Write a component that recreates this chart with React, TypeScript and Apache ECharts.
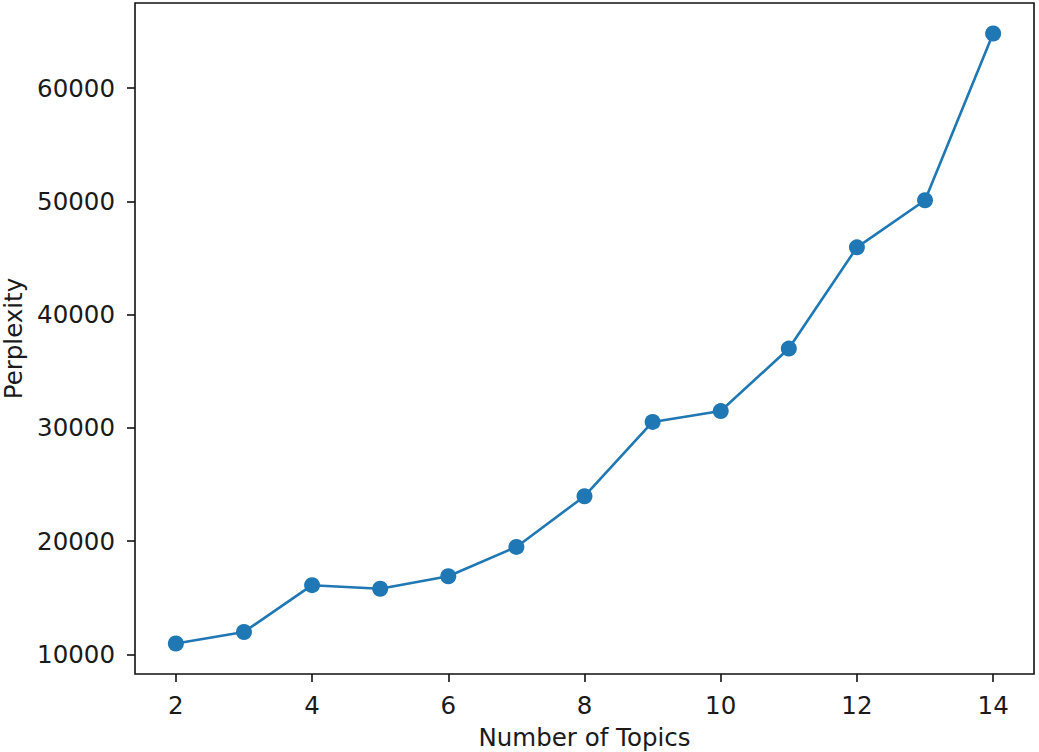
import React, { useEffect, useRef } from "react";
import * as echarts from "echarts";

const topics = [2, 3, 4, 5, 6, 7, 8, 9, 10, 11, 12, 13, 14];
const perplexity = [10950, 11970, 16100, 15790, 16890, 19480, 23960, 30520, 31480, 37000, 45940, 50100, 64830];
const xTicks = [2, 4, 6, 8, 10, 12, 14];
const yTicks = [10000, 20000, 30000, 40000, 50000, 60000];
const xLabel = "Number of Topics";
const yLabel = "Perplexity";

export default function App() {
  const ref = useRef<HTMLDivElement>(null);
  useEffect(() => {
    if (!ref.current) return;
    const chart = echarts.init(ref.current, undefined, { renderer: "svg" });
    const xMin = Math.min(...topics), xMax = Math.max(...topics);
    const yMin = Math.min(...perplexity), yMax = Math.max(...perplexity);
    const xPad = (xMax - xMin) * 0.05, yPad = (yMax - yMin) * 0.05;
    const font = "DejaVu Sans";
    const txt = "#1a1a1a";
    const fs = 24.5;
    chart.setOption({
      animation: false,
      backgroundColor: "#fff",
      grid: {
        left: 135, top: 3, right: 5, bottom: 78,
        containLabel: false,
        outerBoundsMode: "none",
        show: true, borderColor: "#111", borderWidth: 1.6, backgroundColor: "transparent",
      },
      xAxis: {
        type: "value",
        min: xMin - xPad,
        max: xMax + xPad,
        name: xLabel,
        nameLocation: "middle",
        nameGap: 51,
        nameTextStyle: { fontFamily: font, fontSize: fs, color: txt },
        splitLine: { show: false },
        axisLine: { show: false },
        axisTick: { show: true, length: 8, lineStyle: { color: "#111", width: 1.6 }, customValues: xTicks },
        axisLabel: { fontFamily: font, fontSize: fs, color: txt, margin: 19, customValues: xTicks, formatter: (v: number) => String(v) },
      },
      yAxis: {
        type: "value",
        min: yMin - yPad,
        max: yMax + yPad,
        name: yLabel,
        nameLocation: "middle",
        nameRotate: 90,
        nameGap: 107,
        nameTextStyle: { fontFamily: font, fontSize: fs, color: txt },
        splitLine: { show: false },
        axisLine: { show: false },
        axisTick: { show: true, length: 8, lineStyle: { color: "#111", width: 1.6 }, customValues: yTicks },
        axisLabel: { fontFamily: font, fontSize: fs, color: txt, margin: 20, customValues: yTicks, formatter: (v: number) => String(v) },
      },
      series: [
        {
          type: "line",
          data: topics.map((t, i) => [t, perplexity[i]]),
          symbol: "circle",
          symbolSize: 16,
          lineStyle: { color: "#1f77b4", width: 2.6 },
          itemStyle: { color: "#1f77b4" },
        },
      ],
    });
    return () => chart.dispose();
  }, []);
  return <div ref={ref} style={{ position: "fixed", left: 0, top: 0, width: 1039, height: 752 }} />;
}
